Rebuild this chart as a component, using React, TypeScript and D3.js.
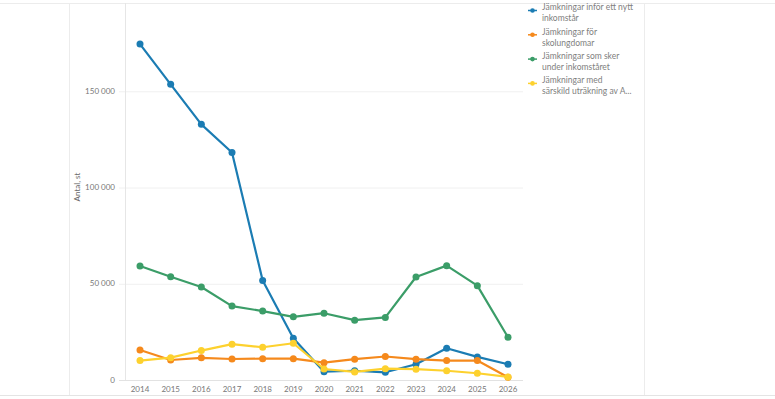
import React from "react";
import * as d3 from "d3";

const years = ["2014","2015","2016","2017","2018","2019","2020","2021","2022","2023","2024","2025","2026"];
const seriesNames = [
  ["Jämkningar inför ett nytt", "inkomstår"],
  ["Jämkningar för", "skolungdomar"],
  ["Jämkningar som sker", "under inkomståret"],
  ["Jämkningar med", "särskild uträkning av A..."],
];
const blueValues = [174500, 153600, 132800, 118200, 51700, 21700, 4300, 4800, 4000, 8200, 16500, 12000, 8200];
const orangeValues = [15600, 10400, 11500, 10900, 11100, 11100, 9000, 10800, 12200, 10800, 10100, 10100, 1400];
const greenValues = [59200, 53600, 48300, 38400, 35800, 32800, 34700, 31100, 32500, 53500, 59400, 49000, 22200];
const yellowValues = [10100, 11600, 15300, 18600, 17000, 19100, 5700, 4200, 5900, 5600, 4800, 3500, 1600];
const yTicks = [0, 50000, 100000, 150000, 200000];
const colors = ["#1b7cb3", "#f5891c", "#3b9d68", "#fdd12e"];

export default function App() {
  const W = 775, H = 399;
  const x = d3.scalePoint<string>().domain(years).range([140, 508]);
  const y = d3.scaleLinear().domain([0, 200000]).range([380, -5]);
  const all = [blueValues, orangeValues, greenValues, yellowValues];
  const line = d3.line<number>().x((_, i) => x(years[i])!).y((d) => y(d));
  const fmt = (v: number) => (v === 0 ? "0" : d3.format(",")(v).replace(/,/g, " "));
  const font = "Lato, 'Open Sans', sans-serif";
  const order = [0, 1, 2, 3];
  return (
    <svg width={W} height={H} style={{ position: "absolute", left: 0, top: 0, background: "#fff" }} fontFamily={font}>
      <line x1={0} x2={W} y1={3.5} y2={3.5} stroke="#ececec" />
      <line x1={0} x2={W} y1={395.5} y2={395.5} stroke="#e4e4e4" />
      <line x1={69.5} x2={69.5} y1={3} y2={395} stroke="#ececec" />
      <line x1={644.5} x2={644.5} y1={3} y2={395} stroke="#ececec" />
      {yTicks.map((t) => (
        <g key={t}>
          <line x1={119} x2={523} y1={y(t) + 0.5} y2={y(t) + 0.5} stroke={t === 0 ? "#e2e2e2" : "#f0f0f0"} />
          <text x={115} y={y(t)} dy="0.33em" textAnchor="end" fontSize={8} fill="#777">{fmt(t)}</text>
        </g>
      ))}
      <line x1={125.5} x2={125.5} y1={3} y2={380} stroke="#e6e6e6" />
      <text transform={`translate(80,${187}) rotate(-90)`} textAnchor="middle" fontSize={8} fill="#666">Antal, st</text>
      {years.map((yr) => (
        <text key={yr} x={x(yr)!} y={392} textAnchor="middle" fontSize={8} fill="#777">{yr}</text>
      ))}
      {order.map((si) => (
        <g key={si}>
          <path d={line(all[si]) || ""} fill="none" stroke={colors[si]} strokeWidth={2.2} strokeLinejoin="round" />
          {all[si].map((v, i) => (
            <circle key={i} cx={x(years[i])!} cy={y(v)} r={3.5} fill={colors[si]} />
          ))}
        </g>
      ))}
      {seriesNames.map((nm, i) => {
        const ly = 9.5 + i * 24.3;
        return (
          <g key={i}>
            <line x1={528} x2={537} y1={ly + 1} y2={ly + 1} stroke={colors[i]} strokeWidth={1.5} />
            <circle cx={532.5} cy={ly + 1} r={2.3} fill={colors[i]} />
            <text x={542} y={ly - 2} dy="0.33em" fontSize={8.5} fill="#808080">{nm[0]}</text>
            <text x={542} y={ly + 9} dy="0.33em" fontSize={8.5} fill="#808080">{nm[1]}</text>
          </g>
        );
      })}
    </svg>
  );
}
